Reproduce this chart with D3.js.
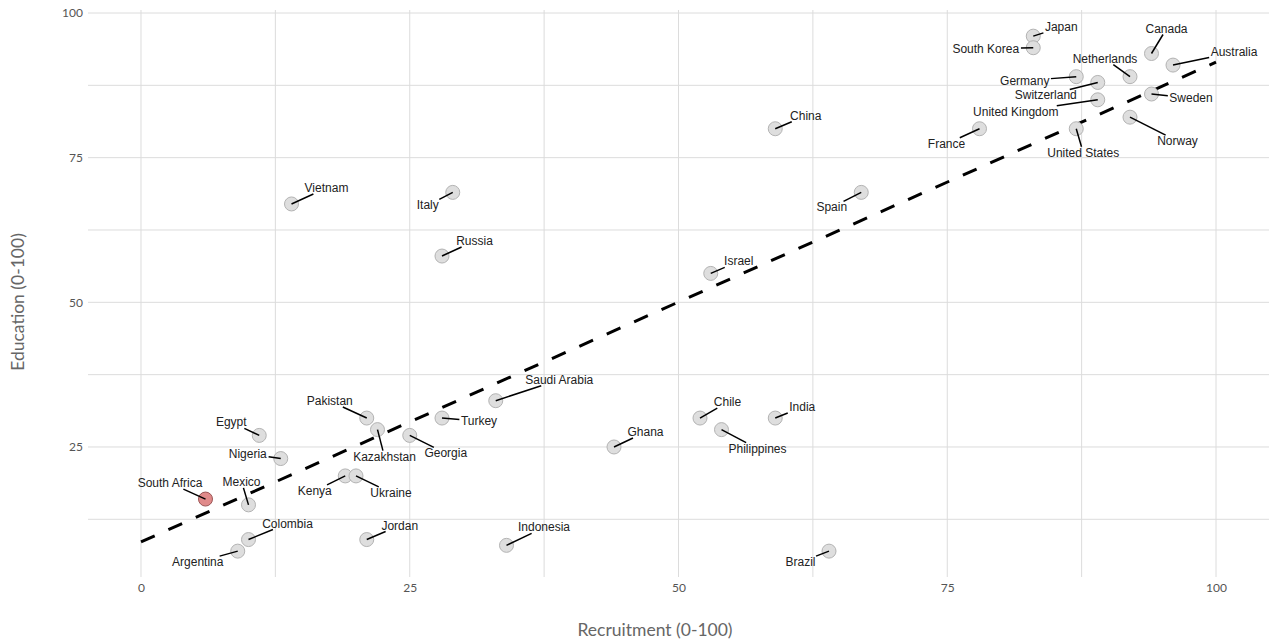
<!DOCTYPE html>
<html>
<head>
<meta charset="utf-8">
<script src="https://cdn.jsdelivr.net/npm/d3@7"></script>
<style>
  html, body { margin: 0; padding: 0; background: #fff; }
  svg { display: block; }
</style>
</head>
<body>
<svg id="chart" width="1269" height="640"></svg>
<script>
// ---- data ----
const countries = ["Japan","South Korea","Canada","Australia","Netherlands","Germany","Switzerland","United Kingdom","Sweden","Norway","United States","France","China","Spain","Italy","Vietnam","Russia","Israel","Saudi Arabia","Turkey","Pakistan","Kazakhstan","Georgia","Egypt","Nigeria","Kenya","Ukraine","South Africa","Mexico","Colombia","Argentina","Jordan","Indonesia","Ghana","Chile","Philippines","India","Brazil"];
const recruitment = [83,83,94,96,92,87,89,89,94,92,87,78,59,67,29,14,28,53,33,28,21,22,25,11,13,19,20,6,10,10,9,21,34,44,52,54,59,64];
const education   = [96,94,93,91,89,89,88,85,86,82,80,80,80,69,69,67,58,55,33,30,30,28,27,27,23,20,20,16,15,9,7,9,8,25,30,28,30,7];
const highlighted = ["South Africa"];
const xTicks = [0,25,50,75,100];
const yTicks = [25,50,75,100];
const xGrid = [0,12.5,25,37.5,50,62.5,75,87.5,100];
const yGrid = [12.5,25,37.5,50,62.5,75,87.5,100];
const trendX = [0,100];
const trendY = [8.6,91.5];
const xTitle = "Recruitment (0-100)";
const yTitle = "Education (0-100)";

// label placement offsets (pixels from point centre), layout only
const labelDx = [28,-47.5,15,61,-25,-51.5,-52,-82,39.5,47.5,7,-33,30.5,-29.5,-25,35,32.5,28,63.5,37,-37,7,36,-28,-33,-30.5,35,-35.5,-7,39,-40,33,37.5,31.5,27.5,36,27,-28.5];
const labelDy = [-9,1,-25,-13,-18,4,13,12,4,24,24,15,-13,15,13,-16,-15,-12,-21,3,-17,27,18,-13,-5,15,17,-16,-23,-16,11,-14,-18,-15,-16,19,-11,11];

// ---- layout ----
const svg = d3.select("#chart");
const pLeft = 88, pRight = 1269, pTop = 10, pBottom = 577;

const x = d3.scaleLinear().domain([-4.93, 104.93]).range([pLeft, pRight]);
const y = d3.scaleLinear().domain([2.53, 100.52]).range([pBottom, pTop]);

// grid
svg.append("g").selectAll("line").data(yGrid).join("line")
  .attr("x1", pLeft).attr("x2", pRight)
  .attr("y1", d => y(d)).attr("y2", d => y(d))
  .attr("stroke", "#dcdcdc").attr("stroke-width", 1);
svg.append("g").selectAll("line").data(xGrid).join("line")
  .attr("x1", d => x(d)).attr("x2", d => x(d))
  .attr("y1", pTop).attr("y2", pBottom)
  .attr("stroke", "#dcdcdc").attr("stroke-width", 1);

// axes (labels only)
const xAxis = d3.axisBottom(x).tickValues(xTicks).tickSize(0).tickPadding(6);
const gx = svg.append("g").attr("transform", `translate(0,${pBottom})`).call(xAxis);
const yAxis = d3.axisLeft(y).tickValues(yTicks).tickSize(0).tickPadding(5);
const gy = svg.append("g").attr("transform", `translate(${pLeft},0)`).call(yAxis);
[gx, gy].forEach(g => {
  g.select(".domain").remove();
  g.selectAll("text").attr("font-family", "Lato, 'Open Sans', sans-serif")
    .attr("font-size", 12).attr("fill", "#555");
});

// titles
svg.append("text").attr("x", 655).attr("y", 629)
  .attr("text-anchor", "middle").attr("dominant-baseline", "central")
  .attr("font-family", "Lato, 'Open Sans', sans-serif").attr("font-size", 17.5).attr("fill", "#666")
  .text(xTitle);
svg.append("text").attr("transform", "translate(17,302) rotate(-90)")
  .attr("text-anchor", "middle").attr("dominant-baseline", "central")
  .attr("font-family", "Lato, 'Open Sans', sans-serif").attr("font-size", 17.5).attr("fill", "#666")
  .text(yTitle);

// trend line
svg.append("line")
  .attr("x1", x(trendX[0])).attr("y1", y(trendY[0]))
  .attr("x2", x(trendX[1])).attr("y2", y(trendY[1]))
  .attr("stroke", "#000").attr("stroke-width", 3)
  .attr("stroke-dasharray", "15,15");

const data = countries.map((c, i) => ({
  name: c, rx: recruitment[i], ed: education[i], dx: labelDx[i], dy: labelDy[i],
  hl: highlighted.includes(c)
}));

// points
svg.append("g").selectAll("circle").data(data).join("circle")
  .attr("cx", d => x(d.rx)).attr("cy", d => y(d.ed)).attr("r", 7)
  .attr("fill", d => d.hl ? "#e08a8a" : "#dedede")
  .attr("stroke", d => d.hl ? "#9c5555" : "#b3b3b3").attr("stroke-width", 1);

// labels
const lg = svg.append("g");
const leaders = lg.append("g");
const texts = lg.append("g").selectAll("text").data(data).join("text")
  .attr("x", d => x(d.rx) + d.dx).attr("y", d => y(d.ed) + d.dy)
  .attr("text-anchor", "middle").attr("dominant-baseline", "central")
  .attr("font-family", "'Liberation Sans', Arial, sans-serif").attr("font-size", 12)
  .attr("fill", "#222")
  .text(d => d.name);

// leader: from point centre toward label centre, stopping at the (padded) label box
texts.each(function(d) {
  const b = this.getBBox();
  const pad = 1.5;
  const px = x(d.rx), py = y(d.ed);
  const cx = b.x + b.width / 2, cy = b.y + b.height / 2;
  const hw = b.width / 2 + pad, hh = b.height / 2 - 1;
  const vx = px - cx, vy = py - cy;
  const t = Math.min(vx !== 0 ? hw / Math.abs(vx) : Infinity, vy !== 0 ? hh / Math.abs(vy) : Infinity);
  if (t >= 1) return;
  const ex = cx + vx * t, ey = cy + vy * t;
  leaders.append("line")
    .attr("x1", px).attr("y1", py).attr("x2", ex).attr("y2", ey)
    .attr("stroke", "#000").attr("stroke-width", 1.5);
});
</script>
</body>
</html>
